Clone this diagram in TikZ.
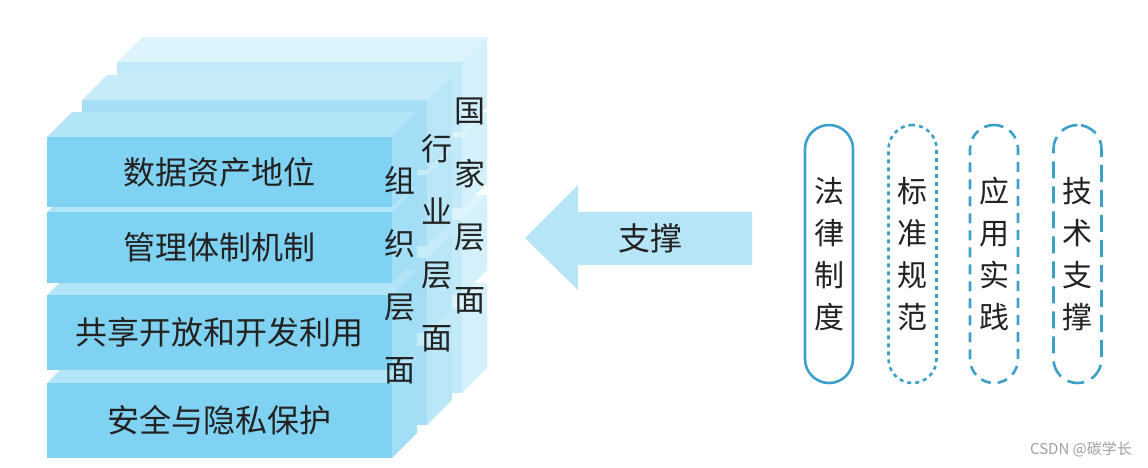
\documentclass[tikz,border=0pt]{standalone}
\usepackage{fontspec}
\setmainfont{Noto Sans CJK SC}
\usetikzlibrary{positioning}

\definecolor{frontF}{HTML}{7FD2F1}
\definecolor{frontT}{HTML}{B2E5F8}
\definecolor{frontS}{HTML}{A2DEF5}
\definecolor{midF}{HTML}{A5DEF5}
\definecolor{midT}{HTML}{C6ECFA}
\definecolor{midS}{HTML}{BAE7F8}
\definecolor{backF}{HTML}{C2EAF9}
\definecolor{backT}{HTML}{DDF4FC}
\definecolor{backS}{HTML}{D3F0FB}
\definecolor{arrowblue}{HTML}{B5E5F7}
\definecolor{capblue}{HTML}{3DA0C8}
\definecolor{ink}{HTML}{222222}

\begin{document}
\begin{tikzpicture}[x=1pt,y=1pt,
  slabtext/.style={font=\fontsize{32}{36}\selectfont,text=ink},
  vtext/.style={font=\fontsize{31}{63}\selectfont,text=ink,align=center,inner sep=0pt},
  capsule/.style={draw=capblue,line width=2.6pt,rounded corners=24pt,minimum width=48pt,
    minimum height=258pt,inner sep=0pt,align=center,text=ink,font=\fontsize{30}{42}\selectfont}]
\useasboundingbox (0,0) rectangle (1148,-467);
% three blocks, back to front; slabs bottom to top
\foreach \dx/\dy/\db/\fc/\tc/\sc in {70/75/65/backF/backT/backS,35/37/33/midF/midT/midS,0/0/0/frontF/frontT/frontS}{
  \foreach \t/\b/\bb in {383/458/1,295/370/0,212/283/0,137/207/0}{
    \pgfmathsetmacro\bot{\b-(\bb==1)*\db-(\bb==0)*\dy}
    \fill[\tc] (47+\dx,-\t+\dy) -- ++(25,25) -- (417+\dx,-\t+\dy+25) -- (392+\dx,-\t+\dy) -- cycle;
    \fill[\sc] (392+\dx,-\t+\dy) -- ++(25,25) -- (417+\dx,-\bot+25) -- (392+\dx,-\bot) -- cycle;
    \fill[\fc] (47+\dx,-\t+\dy) rectangle (392+\dx,-\bot);
  }
}
\node[slabtext] (asset) at (219.5,-172) {数据资产地位};
\node[slabtext] (mgmt) at (219.5,-247.5) {管理体制机制};
\node[slabtext] (share) at (219.5,-332.5) {共享开放和开发利用};
\node[slabtext] (safe) at (219.5,-420.5) {安全与隐私保护};
\node[vtext] (org) at (400,-275) {组\\织\\层\\面};
\node[vtext] (ind) at (437,-243) {行\\业\\层\\面};
\node[vtext] (nat) at (470,-206) {国\\家\\层\\面};
% support arrow
\fill[arrowblue] (752,-212) -- (578,-212) -- (578,-185) -- (525,-238) -- (578,-290) -- (578,-265) -- (752,-265) -- cycle;
\node[slabtext] (support) at (650,-238) {支撑};
% four pillars
\node[capsule] (law) at (829,-254) {法\\律\\制\\度};
\node[capsule,dash pattern=on 4pt off 4pt] (std) at (912.5,-254) {标\\准\\规\\范};
\node[capsule,dash pattern=on 10pt off 7pt] (app) at (994,-254) {应\\用\\实\\践};
\node[capsule,dash pattern=on 17pt off 8pt] (tech) at (1077.5,-254) {技\\术\\支\\撑};
\node[font=\fontsize{15}{17}\selectfont,text=gray!75] (mark) at (1081,-449) {CSDN @碳学长};
\end{tikzpicture}
\end{document}
